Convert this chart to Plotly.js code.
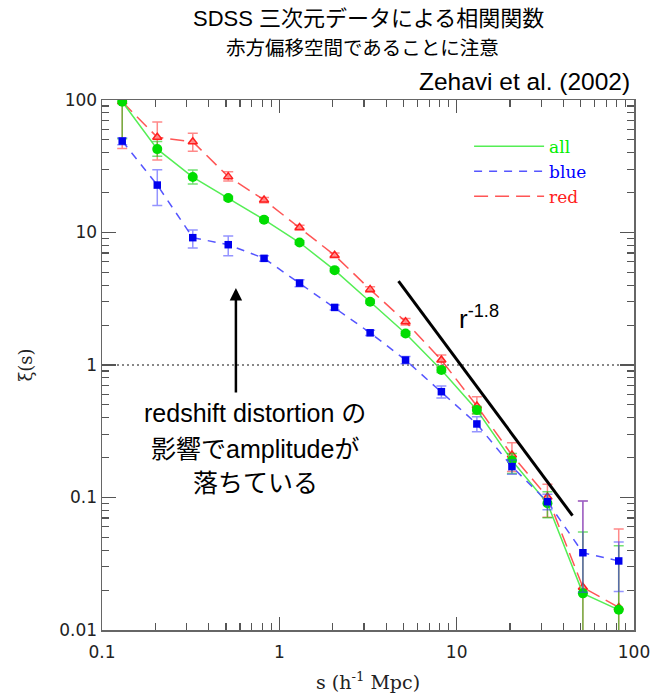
<!DOCTYPE html>
<html>
<head>
<meta charset="utf-8">
<script src="https://cdn.plot.ly/plotly-3.0.1.min.js"></script>
<style>html,body{margin:0;padding:0;background:#fff;}</style>
</head>
<body>
<div id="chart" style="width:654px;height:700px;"></div>
<script>
// separation s (h^-1 Mpc)
const sVals = [0.13, 0.205, 0.325, 0.515, 0.82, 1.3, 2.05, 3.25, 5.15, 8.2, 13, 20.5, 32.5, 51.5, 82];

// xi(s) for all galaxies
const allXi    = [97, 42.6, 26.2, 18.2, 12.5, 8.4, 5.2, 3.0, 1.73, 0.916, 0.457, 0.19, 0.0904, 0.0189, 0.0142];
const allPlus  = [60, 6, 3.4, 0.6, 0.4, 0.25, 0.15, 0.09, 0.06, 0.04, 0.03, 0.025, 0.02, 0.036, 0.029];
const allMinus = [46, 5, 3, 0.6, 0.4, 0.25, 0.15, 0.09, 0.06, 0.04, 0.03, 0.038, 0.02, 1, 1];

// xi(s) for blue galaxies
const blueXi    = [49, 22.8, 9.14, 8.09, 6.38, 4.15, 2.72, 1.75, 1.09, 0.629, 0.359, 0.171, 0.093, 0.0383, 0.0332];
const bluePlus  = [3, 6.9, 1.3, 1.3, 0.3, 0.25, 0.12, 0.08, 0.07, 0.065, 0.048, 0.021, 0.013, 0.056, 0.013];
const blueMinus = [3, 6.8, 1.5, 1.4, 0.3, 0.25, 0.12, 0.08, 0.07, 0.066, 0.045, 0.021, 0.012, 0.019, 0.0137];

// xi(s) for red galaxies
const redXi    = [97, 52.3, 48.4, 26.4, 17.6, 10.9, 6.73, 3.72, 2.12, 1.09, 0.491, 0.209, 0.101, 0.021, 0.0148];
const redPlus  = [60, 16, 7.6, 2.4, 0.8, 0.45, 0.28, 0.17, 0.12, 0.1, 0.085, 0.05, 0.025, 0.073, 0.043];
const redMinus = [54, 17, 7.4, 1.9, 0.8, 0.45, 0.28, 0.17, 0.12, 0.12, 0.06, 0.052, 0.03, 1, 1];

// r^-1.8 guide line end points
const powX = [4.7, 45];
const powY = [4.3, 0.073];

// xi = 1 reference
const refX = [0.1, 100];
const refY = [1, 1];

const seriesNames = ['all', 'blue', 'red'];

const GREEN = '#00dd00', GREEN_L = '#55ee55', GREEN_E = 'rgba(0,200,0,0.55)';
const BLUE = '#0000ee', BLUE_L = '#5555ff', BLUE_E = 'rgba(60,60,255,0.55)';
const RED = '#ff2020', RED_L = '#ff5555', RED_E = 'rgba(255,40,40,0.55)';

function errs(p, m, c) {
  return {type: 'data', symmetric: false, array: p, arrayminus: m, color: c, thickness: 1.5, width: 5};
}

const traces = [
  {x: refX, y: refY, mode: 'lines', line: {color: '#888', width: 2, dash: '2px,3px'}, showlegend: false, hoverinfo: 'skip'},
  // red
  {x: sVals, y: redXi, mode: 'lines', name: '<span style="color:#ff2020">' + seriesNames[2] + '</span>',
   line: {color: RED_L, width: 1.5, dash: '14px,7px'}, legendrank: 3},
  {x: sVals, y: redXi, mode: 'markers', showlegend: false, error_y: errs(redPlus, redMinus, RED_E),
   marker: {symbol: 'triangle-up', size: 8, color: 'rgba(255,140,140,0.9)', line: {color: RED, width: 1.5}}},
  // all
  {x: sVals, y: allXi, mode: 'lines', name: '<span style="color:#00ee00">' + seriesNames[0] + '</span>',
   line: {color: GREEN_L, width: 1.5}, legendrank: 1},
  {x: sVals, y: allXi, mode: 'markers', showlegend: false, error_y: errs(allPlus, allMinus, GREEN_E),
   marker: {symbol: 'circle', size: 10, color: GREEN}},
  // blue
  {x: sVals, y: blueXi, mode: 'lines', name: '<span style="color:#0000ff">' + seriesNames[1] + '</span>',
   line: {color: BLUE_L, width: 1.5, dash: '8px,7px'}, legendrank: 2},
  {x: sVals, y: blueXi, mode: 'markers', showlegend: false, error_y: errs(bluePlus, blueMinus, BLUE_E),
   marker: {symbol: 'square', size: 7.5, color: BLUE}},
  // power law
  {x: powX, y: powY, mode: 'lines', line: {color: '#000', width: 3}, showlegend: false, hoverinfo: 'skip'}
];

const jpFont = 'Liberation Sans, Noto Sans CJK JP, sans-serif';

const axisCommon = {
  type: 'log', dtick: 1, ticks: 'inside', tickwidth: 1.5, tickcolor: '#555',
  mirror: 'allticks', showline: true, linecolor: '#666', linewidth: 1.5,
  showgrid: false, zeroline: false,
  minor: {ticks: 'inside', ticklen: 7, dtick: 'D1', tickcolor: '#555', tickwidth: 1.2, showgrid: false},
  tickfont: {family: 'DejaVu Sans', size: 17, color: '#222'}
};

const layout = {
  width: 654, height: 700,
  margin: {l: 102, r: 20, t: 100, b: 70},
  paper_bgcolor: '#fff', plot_bgcolor: '#fff',
  xaxis: Object.assign({}, axisCommon, {
    range: [-1, 2], ticklen: 13, ticklabelstandoff: 6,
    title: {text: 's (h<sup>-1</sup> Mpc)', font: {family: 'DejaVu Serif', size: 19, color: '#222'}, standoff: 15}
  }),
  yaxis: Object.assign({}, axisCommon, {
    range: [-2, 2], ticklen: 14,
    title: {text: 'ξ(s)', font: {family: 'DejaVu Serif', size: 18, color: '#222'}, standoff: 22}
  }),
  legend: {x: 0.69, y: 0.946, xanchor: 'left', yanchor: 'top', bgcolor: 'rgba(0,0,0,0)',
           font: {family: 'DejaVu Serif', size: 17}, itemwidth: 70, traceorder: 'normal'},
  annotations: [
    {xref: 'paper', yref: 'paper', x: 0.5, y: 1.1547, text: 'SDSS 三次元データによる相関関数', showarrow: false,
     xanchor: 'center', yanchor: 'middle', font: {family: jpFont, size: 22, color: '#000'}},
    {xref: 'paper', yref: 'paper', x: 0.49, y: 1.098, text: '赤方偏移空間であることに注意', showarrow: false,
     xanchor: 'center', yanchor: 'middle', font: {family: jpFont, size: 19.5, color: '#000'}},
    {xref: 'paper', yref: 'paper', x: 0.996, y: 1.034, text: 'Zehavi et al. (2002)', showarrow: false,
     xanchor: 'right', yanchor: 'middle', font: {family: jpFont, size: 24.5, color: '#000'}},
    {xref: 'paper', yref: 'paper', x: 0.667, y: 0.589, text: 'r<sup>-1.8</sup>', showarrow: false,
     xanchor: 'left', yanchor: 'middle', font: {family: jpFont, size: 26, color: '#000'}},
    {xref: 'paper', yref: 'paper', x: 0.2876, y: 0.4094, text: 'redshift distortion の', showarrow: false,
     xanchor: 'center', yanchor: 'middle', font: {family: jpFont, size: 25, color: '#000'}},
    {xref: 'paper', yref: 'paper', x: 0.2876, y: 0.3415, text: '影響でamplitudeが', showarrow: false,
     xanchor: 'center', yanchor: 'middle', font: {family: jpFont, size: 25, color: '#000'}},
    {xref: 'paper', yref: 'paper', x: 0.2876, y: 0.2774, text: '落ちている', showarrow: false,
     xanchor: 'center', yanchor: 'middle', font: {family: jpFont, size: 25, color: '#000'}},
    {xref: 'x', yref: 'y', axref: 'x', ayref: 'y',
     x: Math.log10(0.569), y: Math.log10(3.81), ax: Math.log10(0.569), ay: Math.log10(0.604),
     text: '', showarrow: true, arrowhead: 2, arrowsize: 1, arrowwidth: 2.5, arrowcolor: '#000', standoff: 0}
  ]
};

Plotly.newPlot('chart', traces, layout, {staticPlot: true, displayModeBar: false});
</script>
</body>
</html>
